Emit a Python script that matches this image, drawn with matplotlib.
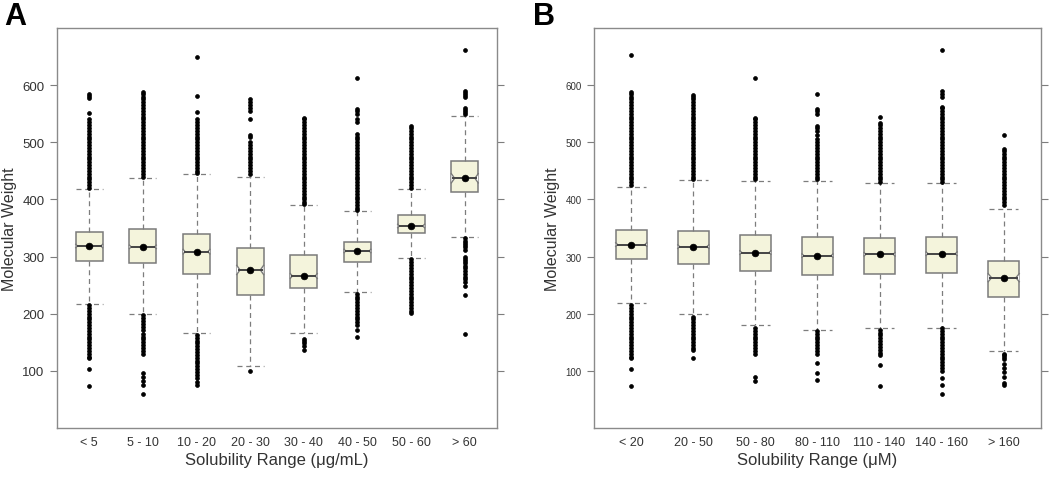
import matplotlib
matplotlib.use("Agg")
import matplotlib.pyplot as plt

plt.rcParams['font.family'] = ['Liberation Sans', 'DejaVu Sans']

# ---- panel A: solubility in ug/mL ----
cats_a = ["< 5", "5 - 10", "10 - 20", "20 - 30", "30 - 40", "40 - 50", "50 - 60", "> 60"]
q1_a = [293, 288, 270, 232, 244.5, 290.6, 341, 413.5]
med_a = [318.5, 317, 308.6, 276.6, 266, 309.8, 353.5, 437]
q3_a = [342.4, 348, 339.5, 315, 302.8, 326, 372, 467]
whislo_a = [217.7, 200, 166, 108, 166, 237.5, 297, 335]
whishi_a = [417.6, 437.4, 443.8, 438.6, 389.6, 380, 418, 546]
notch_a = [3, 3, 4, 8, 4, 3, 3, 8]

hi_a = [
    [420, 425, 430, 435, 440, 445, 450, 455, 460, 465, 470, 475, 480, 485, 490, 495, 500, 505, 510, 515,
     520, 525, 530, 535, 540, 551, 577, 581, 585],
    [440, 445, 450, 455, 460, 465, 470, 475, 480, 485, 490, 495, 500, 505, 510, 515, 520, 525, 530, 535,
     540, 545, 550, 555, 560, 565, 570, 575, 580, 585, 588],
    [446, 450, 455, 460, 465, 470, 475, 480, 485, 490, 495, 500, 505, 510, 515, 520, 525, 530, 535, 540,
     553, 581, 650],
    [445, 450, 455, 460, 465, 470, 475, 480, 485, 490, 495, 500, 510, 513, 540, 555, 560, 565, 570, 576],
    [392, 395, 400, 405, 410, 415, 420, 425, 430, 435, 440, 445, 450, 455, 460, 465, 470, 475, 480, 485,
     490, 495, 500, 505, 510, 515, 520, 525, 530, 535, 540, 543],
    [382, 385, 390, 395, 400, 405, 410, 415, 420, 425, 430, 435, 440, 445, 450, 455, 460, 465, 470, 475,
     480, 485, 490, 495, 500, 505, 510, 515, 536, 540, 550, 555, 559, 612],
    [420, 425, 430, 435, 440, 445, 450, 455, 460, 465, 470, 475, 480, 485, 490, 495, 500, 505, 510, 515,
     520, 525, 528],
    [550, 553, 556, 560, 580, 583, 587, 590, 662],
]
lo_a = [
    [215, 210, 205, 200, 195, 190, 185, 180, 175, 170, 165, 160, 155, 150, 145, 140, 135, 130, 125, 122,
     103, 74],
    [197, 192, 187, 182, 177, 172, 165, 160, 155, 150, 145, 140, 135, 130, 97, 90, 83, 75, 60],
    [163, 158, 153, 148, 143, 138, 133, 128, 123, 118, 113, 108, 103, 98, 93, 88, 80, 76],
    [100],
    [156, 152, 148, 144, 137],
    [235, 230, 225, 220, 215, 210, 205, 200, 195, 190, 185, 180, 171, 159],
    [295, 290, 285, 280, 275, 270, 265, 260, 255, 250, 245, 240, 235, 230, 225, 220, 215, 210, 205, 201],
    [332, 328, 324, 320, 316, 312, 300, 296, 292, 288, 284, 280, 275, 270, 265, 260, 255, 248, 232, 164],
]

# ---- panel B: solubility in uM ----
cats_b = ["< 20", "20 - 50", "50 - 80", "80 - 110", "110 - 140", "140 - 160", "> 160"]
q1_b = [295, 287, 275, 268.4, 270, 270.7, 228.8]
med_b = [321, 317.4, 307, 301.6, 304, 305, 263]
q3_b = [346.5, 345.3, 337.8, 334.3, 333, 333.7, 293]
whislo_b = [219.5, 200, 180.4, 171, 174.6, 175.7, 135]
whishi_b = [422.3, 434, 432, 432.8, 428.7, 429, 383.8]
notch_b = [3, 3, 3, 3, 3, 3, 7]

hi_b = [
    [425, 430, 435, 440, 445, 450, 455, 460, 465, 470, 475, 480, 485, 490, 495, 500, 505, 510, 515, 520,
     525, 530, 535, 540, 545, 550, 555, 560, 565, 570, 575, 580, 585, 588, 652],
    [435, 440, 445, 450, 455, 460, 465, 470, 475, 480, 485, 490, 495, 500, 505, 510, 515, 520, 525, 530,
     535, 540, 545, 550, 555, 560, 565, 570, 575, 580, 582],
    [435, 440, 445, 450, 455, 460, 465, 470, 475, 480, 485, 490, 495, 500, 505, 510, 515, 520, 525, 530,
     535, 540, 543, 612],
    [435, 440, 445, 450, 455, 460, 465, 470, 475, 480, 485, 490, 495, 500, 505, 512, 520, 525, 529, 550,
     555, 559, 585],
    [430, 435, 440, 445, 450, 455, 460, 465, 470, 475, 480, 485, 490, 495, 500, 505, 510, 515, 520, 525,
     530, 533, 545],
    [430, 435, 440, 445, 450, 455, 460, 465, 470, 475, 480, 485, 490, 495, 500, 505, 510, 515, 520, 525,
     530, 535, 540, 545, 550, 555, 560, 562, 580, 585, 590, 662],
    [390, 395, 400, 405, 410, 415, 420, 425, 430, 435, 440, 445, 450, 455, 460, 465, 470, 475, 480, 485,
     489, 512],
]
lo_b = [
    [215, 210, 205, 200, 195, 190, 185, 180, 175, 170, 165, 160, 155, 150, 145, 140, 135, 130, 125, 122,
     103, 74],
    [195, 190, 185, 180, 175, 170, 165, 160, 155, 150, 145, 140, 136, 122],
    [175, 170, 165, 160, 155, 150, 145, 140, 135, 130, 90, 82],
    [170, 165, 160, 155, 150, 145, 140, 135, 130, 113, 97, 84],
    [172, 167, 162, 157, 152, 147, 142, 137, 132, 128, 111, 74],
    [175, 170, 165, 160, 155, 150, 145, 140, 135, 130, 125, 120, 115, 110, 105, 100, 87, 75, 60],
    [130, 127, 124, 120, 112, 105, 98, 90, 78, 75],
]

yticks = [100, 200, 300, 400, 500, 600]

BOX_FILL = "#f4f4dc"
BOX_EDGE = "#7a7a7a"
GREY = "#7d7d7d"
TXT = "#333333"
HALF = 0.25  # half box width


def make_stats(q1, med, q3, wlo, whi, hi, lo):
    stats = []
    for i in range(len(med)):
        stats.append(dict(q1=q1[i], med=med[i], q3=q3[i], whislo=wlo[i], whishi=whi[i],
                          mean=med[i], fliers=hi[i] + lo[i]))
    return stats


def draw_panel(ax, stats, notch, cats, xlabel, ytick_size, capw):
    pos = list(range(1, len(cats) + 1))
    ax.bxp(stats, positions=pos, widths=2 * HALF, capwidths=capw,
           showmeans=True, patch_artist=True,
           boxprops=dict(facecolor=BOX_FILL, edgecolor=BOX_EDGE, linewidth=1.1),
           whiskerprops=dict(color=GREY, linestyle=(0, (4, 3)), linewidth=0.9),
           capprops=dict(color=GREY, linestyle=(0, (4, 3)), linewidth=0.9),
           medianprops=dict(linewidth=0),
           meanprops=dict(marker="o", markerfacecolor="black", markeredgecolor="black",
                          markersize=4.8, markeredgewidth=0.5, zorder=5),
           flierprops=dict(marker="o", markerfacecolor="black", markeredgecolor="black",
                           markersize=2.8, markeredgewidth=0.5, linestyle="none"))
    # small notches at the median on both box sides
    for p, s, n in zip(pos, stats, notch):
        m = s["med"]
        d = 0.012 + n * 0.006
        for side in (-1, 1):
            edge = p + side * HALF
            xs = [edge, edge - side * d, edge]
            ys = [m - n, m, m + n]
            ax.fill(xs, ys, color="white", zorder=3, linewidth=0)
            ax.plot(xs, ys, color=BOX_EDGE, linewidth=1.0, zorder=3)
    # median line across the box
    meds = [s["med"] for s in stats]
    ax.hlines(meds, [p - HALF + 0.02 for p in pos], [p + HALF - 0.02 for p in pos],
              colors="#444444", linewidth=1.4, zorder=4)
    ax.set_xlim(0.4, len(cats) + 0.6)
    ax.set_ylim(0, 700)
    ax.set_xticks(pos)
    ax.set_xticklabels(cats, fontsize=9, color=TXT)
    ax.set_yticks(yticks)
    ax.tick_params(axis="x", length=0, pad=6)
    ax.tick_params(axis="y", direction="out", length=5, color=GREY, labelsize=ytick_size,
                   labelcolor=TXT, right=True, pad=4)
    for sp in ax.spines.values():
        sp.set_color("#8a8a8a")
        sp.set_linewidth(1.0)
    ax.set_xlabel(xlabel, fontsize=12, color=TXT, labelpad=3)
    ax.set_ylabel("Molecular Weight", fontsize=11.5, color=TXT)


fig = plt.figure(figsize=(10.5, 4.89), dpi=100)
ax_a = fig.add_axes([0.0543, 0.1227, 0.419, 0.818])
ax_b = fig.add_axes([0.5657, 0.1227, 0.4257, 0.818])

draw_panel(ax_a, make_stats(q1_a, med_a, q3_a, whislo_a, whishi_a, hi_a, lo_a), notch_a,
           cats_a, "Solubility Range (\u03bcg/mL)", 9.5, 0.5)
draw_panel(ax_b, make_stats(q1_b, med_b, q3_b, whislo_b, whishi_b, hi_b, lo_b), notch_b,
           cats_b, "Solubility Range (\u03bcM)", 7, 0.46)

fig.text(0.004, 0.995, "A", fontsize=22, fontweight="bold", va="top", ha="left")
fig.text(0.508, 0.995, "B", fontsize=22, fontweight="bold", va="top", ha="left")

fig.savefig("out.png", dpi=100)
